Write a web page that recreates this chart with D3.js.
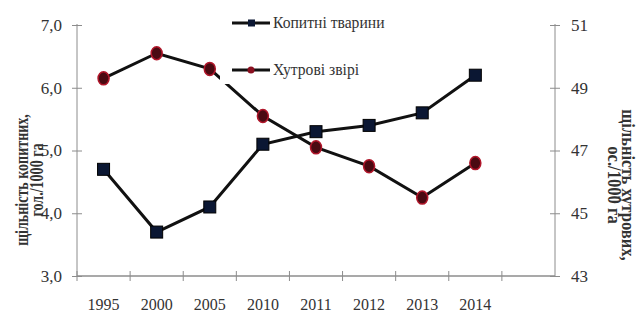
<!DOCTYPE html>
<html>
<head>
<meta charset="utf-8">
<script src="https://cdn.jsdelivr.net/npm/d3@7"></script>
<style>
  body { margin: 0; background: #fff; }
  text { font-family: "Liberation Serif", "Times New Roman", serif; }
</style>
</head>
<body>
<div id="chart"></div>
<script>
// data
let years = ['1995', '2000', '2005', '2010', '2011', '2012', '2013', '2014'];
let hoofed = [4.7, 3.7, 4.1, 5.1, 5.3, 5.4, 5.6, 6.2];
let furred = [49.3, 50.1, 49.6, 48.1, 47.1, 46.5, 45.5, 46.6];
let leftTicks = [3, 4, 5, 6, 7];
let rightTicks = [43, 45, 47, 49, 51];
let seriesNames = ['Копитні тварини', 'Хутрові звірі'];

let width = 640, height = 313;
let margin = { top: 25, left: 77, right: 85, bottom: 37 };
let plotRight = width - margin.right; // 555
let plotBottom = height - margin.bottom; // 276

let svg = d3.select('#chart')
  .append('svg')
  .attr('width', width)
  .attr('height', height);

// x scale: 8 bands, the axis line keeps running to the right axis
let bandStep = (plotRight - margin.left) / 9;
let xScale = d3.scaleBand()
  .domain(years)
  .range([margin.left, margin.left + bandStep * years.length]);

let yLeft = d3.scaleLinear().domain([3, 7]).range([plotBottom, margin.top]);
let yRight = d3.scaleLinear().domain([43, 51]).range([plotBottom, margin.top]);

let axisColor = '#8c8c8c';

// left axis
let gl = svg.append('g')
  .attr('transform', `translate(${margin.left},0)`)
  .call(d3.axisLeft(yLeft).tickValues(leftTicks).tickSize(5)
    .tickFormat(d => d3.format('.1f')(d).replace('.', ',')));
gl.select('.domain').attr('stroke', axisColor).attr('d', `M0,${margin.top - 1}V${plotBottom}`);
gl.selectAll('.tick line').attr('stroke', axisColor).attr('x1', -5).attr('x2', 5);
gl.selectAll('.tick text')
  .attr('x', -15)
  .style('font-size', '17px')
  .attr('fill', '#333');

// right axis
let gr = svg.append('g')
  .attr('transform', `translate(${plotRight},0)`)
  .call(d3.axisRight(yRight).tickValues(rightTicks).tickSize(5));
gr.select('.domain').attr('stroke', axisColor).attr('d', `M0,${margin.top - 1}V${plotBottom}`);
gr.selectAll('.tick line').attr('stroke', axisColor).attr('x1', -5).attr('x2', 5);
gr.selectAll('.tick text')
  .attr('x', 16)
  .style('font-size', '17px')
  .attr('fill', '#333');

// x axis
svg.append('line')
  .attr('x1', margin.left).attr('x2', plotRight)
  .attr('y1', plotBottom).attr('y2', plotBottom)
  .attr('stroke', axisColor).attr('stroke-width', 1.5);

let boundaries = years.map(d => xScale(d)).concat([xScale(years[years.length - 1]) + xScale.bandwidth()]);
svg.selectAll('.xtick')
  .data(boundaries)
  .enter()
  .append('line')
  .attr('x1', d => d).attr('x2', d => d)
  .attr('y1', plotBottom - 5).attr('y2', plotBottom + 5)
  .attr('stroke', axisColor);

svg.selectAll('.xlabel')
  .data(years)
  .enter()
  .append('text')
  .attr('x', d => xScale(d) + xScale.bandwidth() / 2)
  .attr('y', 310)
  .attr('text-anchor', 'middle')
  .style('font-size', '16px')
  .attr('fill', '#333')
  .text(d => d);

let cx = d => xScale(d) + xScale.bandwidth() / 2;

// lines
let lineLeft = d3.line().x((d, i) => cx(years[i])).y(d => yLeft(d));
let lineRight = d3.line().x((d, i) => cx(years[i])).y(d => yRight(d));

svg.append('path')
  .attr('d', lineRight(furred))
  .attr('fill', 'none')
  .attr('stroke', '#111')
  .attr('stroke-width', 3);

svg.append('path')
  .attr('d', lineLeft(hoofed))
  .attr('fill', 'none')
  .attr('stroke', '#111')
  .attr('stroke-width', 3);

// markers
svg.selectAll('.sq')
  .data(hoofed)
  .enter()
  .append('rect')
  .attr('x', (d, i) => cx(years[i]) - 6)
  .attr('y', d => yLeft(d) - 6)
  .attr('width', 12)
  .attr('height', 12)
  .attr('fill', '#0b1733')
  .attr('stroke', '#000');

svg.selectAll('.ci')
  .data(furred)
  .enter()
  .append('ellipse')
  .attr('cx', (d, i) => cx(years[i]))
  .attr('cy', d => yRight(d))
  .attr('rx', 5.5)
  .attr('ry', 6.5)
  .attr('fill', '#4a0a12')
  .attr('stroke', '#b0162a')
  .attr('stroke-width', 1.5);

// legend with white background (covers part of the line)
let legend = svg.append('g');
legend.append('rect')
  .attr('x', 220).attr('y', 0)
  .attr('width', 180).attr('height', 84)
  .attr('fill', '#fff');

let legendY = [23, 70];
seriesNames.forEach(function(name, i) {
  let y = legendY[i];
  legend.append('line')
    .attr('x1', 232).attr('x2', 270)
    .attr('y1', y).attr('y2', y)
    .attr('stroke', '#111').attr('stroke-width', 3);
  if (i == 0) {
    legend.append('rect')
      .attr('x', 248).attr('y', y - 3.5)
      .attr('width', 7).attr('height', 7)
      .attr('fill', '#0b1733');
  } else {
    legend.append('circle')
      .attr('cx', 251).attr('cy', y)
      .attr('r', 3.5)
      .attr('fill', '#8a1020');
  }
  legend.append('text')
    .attr('x', 273)
    .attr('y', y + 5)
    .attr('transform', `translate(273,0) scale(0.92,1) translate(-273,0)`)
    .style('font-size', '17px')
    .attr('fill', '#333')
    .text(name);
});

// axis titles (serif bold, a bit condensed like the original)
let leftTitle = svg.append('text')
  .attr('transform', 'translate(23,180) rotate(-90) scale(0.78,1)')
  .attr('text-anchor', 'middle')
  .style('font-size', '18px')
  .style('font-weight', 'bold')
  .attr('fill', '#333');
leftTitle.append('tspan').attr('x', 0).attr('dy', '0.3em').text('щільність копитних,');
leftTitle.append('tspan').attr('x', 0).attr('dy', '15px').text('гол./1000 га');

let rightTitle = svg.append('text')
  .attr('transform', 'translate(618,185) rotate(90) scale(0.92,1)')
  .attr('text-anchor', 'middle')
  .style('font-size', '18px')
  .style('font-weight', 'bold')
  .attr('fill', '#333');
rightTitle.append('tspan').attr('x', 0).attr('dy', '-0.25em').text('щільність хутрових,');
rightTitle.append('tspan').attr('x', 0).attr('dy', '14px').text('ос./1000 га');
</script>
</body>
</html>
